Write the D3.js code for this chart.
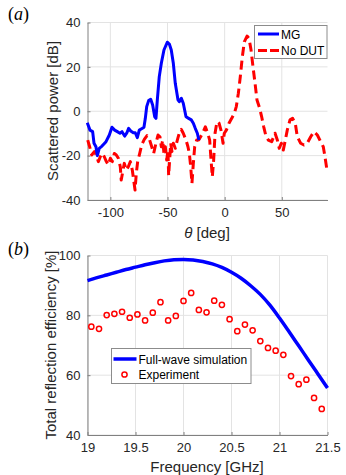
<!DOCTYPE html>
<html>
<head>
<meta charset="utf-8">
<script src="https://cdn.jsdelivr.net/npm/d3@7"></script>
<style>
  html, body { margin: 0; padding: 0; background: #fff; }
  svg { display: block; font-family: "Liberation Sans", Arial, sans-serif; }
</style>
</head>
<body>
<svg id="chart" width="346" height="475"></svg>
<script>
// ---------- Data: panel (a) ----------
const mgTheta = [-120.2,-117.8,-115.5,-114.3,-112.6,-111.4,-109.7,-107.3,-103.8,-100.9,-98.6,-96.2,-93.9,-91.6,-89.8,-87.5,-85.7,-84.0,-82.2,-79.9,-78.2,-76.4,-74.7,-72.3,-70.6,-69.4,-68.2,-66.5,-64.7,-63.0,-61.2,-60.1,-58.9,-57.2,-55.4,-53.1,-50.2,-48.4,-46.7,-44.9,-43.2,-40.8,-39.7,-37.9,-36.2,-33.8,-31.5,-29.2,-27.4,-25.7,-23.9,-22.5];
const mgPower = [-5.2,-8.5,-9.2,-14.4,-16.0,-20.0,-16.7,-15.7,-13.7,-10.7,-7.2,-8.5,-9.2,-9.9,-9.2,-11.2,-9.9,-7.7,-8.9,-9.7,-9.7,-11.9,-8.5,-7.8,-7.2,-3.2,2.1,4.8,5.4,2.8,-2.5,-3.2,5.1,15.6,21.6,27.6,31.1,30.3,27.6,21.6,12.6,5.1,4.3,5.8,3.6,-2.5,-3.2,-3.9,-5.4,-7.7,-9.9,-13.0];

const noDutTheta = [-119.8,-118.1,-116.3,-114.0,-112.3,-110.5,-108.8,-107.1,-105.3,-103.5,-101.8,-100.0,-98.3,-96.5,-94.8,-93.0,-91.3,-90.5,-87.8,-86.0,-84.3,-82.5,-80.8,-79.6,-78.4,-77.3,-76.1,-74.3,-72.6,-70.3,-67.9,-65.6,-63.8,-62.1,-60.1,-58.3,-56.6,-55.4,-54.2,-53.1,-51.9,-50.7,-49.6,-49.0,-47.2,-46.1,-44.9,-43.2,-41.4,-39.7,-37.9,-36.2,-33.8,-32.1,-30.9,-29.7,-28.6,-27.4,-26.2,-24.5,-22.7,-21.0,-18.7,-16.9,-14.8,-13.1,-11.9,-10.8,-9.6,-8.4,-6.7,-4.9,-3.2,-1.4,-0.3,1.5,3.8,6.2,8.5,10.2,12.0,13.7,15.5,17.2,19.6,21.3,23.1,24.8,26.6,28.3,30.7,32.4,34.2,35.9,38.2,41.2,44.1,46.1,47.8,49.6,51.3,53.1,54.8,57.2,59.5,61.8,63.6,66.5,69.4,72.3,75.3,78.2,81.1,84.0,86.3,87.8,89.3];
const noDutPower = [-13.0,-16.0,-19.7,-18.2,-19.7,-22.7,-20.5,-19.0,-20.5,-22.7,-24.2,-21.2,-22.7,-19.0,-19.7,-21.2,-25.0,-31.0,-23.5,-26.5,-25.0,-22.7,-26.5,-31.0,-35.5,-28.0,-22.7,-19.0,-15.2,-12.7,-11.0,-13.0,-16.0,-19.0,-14.4,-10.7,-11.5,-16.0,-13.0,-19.0,-16.0,-22.0,-17.5,-29.0,-14.4,-18.2,-14.4,-16.7,-13.0,-9.9,-8.2,-9.9,-13.0,-16.0,-19.0,-25.0,-32.5,-23.5,-16.0,-13.0,-13.0,-11.5,-9.2,-7.0,-9.9,-13.0,-22.0,-29.5,-22.0,-9.9,-4.7,-5.4,-8.5,-14.4,-9.9,-8.5,-5.4,-3.2,-0.9,2.1,8.1,15.6,24.6,31.3,33.9,32.9,27.6,20.1,12.6,5.1,1.3,-2.5,-7.0,-10.7,-13.0,-13.7,-9.9,-13.0,-16.7,-14.4,-17.5,-13.0,-8.5,-3.9,-3.2,-5.4,-11.5,-14.4,-15.2,-14.4,-11.5,-9.2,-10.7,-13.7,-16.0,-20.5,-25.7];

const thetaTicks = [-100, -50, 0, 50];
const powerTicks = [-40, -20, 0, 20, 40];
const legendA = ["MG", "No DUT"];

// ---------- Data: panel (b) ----------
const freqSim = [19.0,19.1,19.2,19.3,19.4,19.5,19.6,19.7,19.8,19.9,20.0,20.1,20.2,20.3,20.4,20.5,20.6,20.7,20.8,20.9,21.0,21.1,21.2,21.3,21.4,21.5];
const effSim  = [91.6,92.6,93.5,94.4,95.3,96.1,96.9,97.6,98.2,98.6,98.7,98.5,98.0,97.2,96.0,94.4,92.4,89.9,87.0,83.4,79.1,74.5,69.8,65.1,60.4,55.7];

const freqExp = [19.04,19.12,19.20,19.28,19.36,19.44,19.52,19.60,19.68,19.76,19.84,19.92,20.00,20.08,20.16,20.24,20.32,20.40,20.48,20.56,20.64,20.72,20.80,20.88,20.96,21.04,21.12,21.20,21.28,21.36,21.44];
const effExp  = [76.2,75.5,80.1,80.5,81.2,79.2,80.3,78.3,80.9,84.4,78.3,79.8,84.8,87.5,81.8,81.0,84.9,83.5,78.7,74.7,76.9,75.0,71.4,69.1,68.2,66.8,59.7,57.0,58.5,52.4,48.7];

const freqTicks = [19, 19.5, 20, 20.5, 21, 21.5];
const effTicks = [40, 60, 80, 100];
const legendB = ["Full-wave simulation", "Experiment"];

// ---------- Drawing ----------
const svg = d3.select("#chart");
const BLUE = "#0000ff", RED = "#ff0000";
const GRID = "#e3e3e3", AXIS = "#808080", TEXT = "#262626";
const L = 87.5, R = 327.5;

function drawAxes(g, x, y, xt, yt, xfmt) {
  g.append("g").selectAll("line.vg").data(xt).join("line")
    .attr("x1", d => x(d)).attr("x2", d => x(d))
    .attr("y1", y.range()[0]).attr("y2", y.range()[1])
    .attr("stroke", GRID).attr("stroke-width", 1);
  g.append("g").selectAll("line.hg").data(yt).join("line")
    .attr("x1", x.range()[0]).attr("x2", x.range()[1])
    .attr("y1", d => y(d)).attr("y2", d => y(d))
    .attr("stroke", GRID).attr("stroke-width", 1);
  const xa = g.append("g").attr("transform", `translate(0,${y.range()[0]})`)
    .call(d3.axisBottom(x).tickValues(xt).tickSizeInner(-3).tickSizeOuter(0).tickPadding(8).tickFormat(xfmt));
  const ya = g.append("g").attr("transform", `translate(${x.range()[0]},0)`)
    .call(d3.axisLeft(y).tickValues(yt).tickSizeInner(-3).tickSizeOuter(0).tickPadding(7));
  [xa, ya].forEach(a => {
    a.select(".domain").attr("stroke", AXIS);
    a.selectAll(".tick line").attr("stroke", AXIS);
    a.selectAll(".tick text").attr("fill", TEXT).style("font-size", "13px")
      .style("font-family", '"Liberation Sans", Arial, sans-serif');
  });
  ya.selectAll(".tick text").text(d => (d < 0 ? "-" + Math.abs(d) : d));
}

// ---- Panel (a)
const xA = d3.scaleLinear().domain([-120, 90]).range([L, R]);
const yA = d3.scaleLinear().domain([-40, 40]).range([200, 22.5]);
const gA = svg.append("g");
drawAxes(gA, xA, yA, thetaTicks, powerTicks, d => (d < 0 ? "-" + Math.abs(d) : d));

const lineA = d3.line().x(d => xA(d[0])).y(d => yA(d[1]));
gA.append("path").datum(d3.zip(noDutTheta, noDutPower))
  .attr("d", lineA).attr("fill", "none").attr("stroke", RED)
  .attr("stroke-width", 3).attr("stroke-dasharray", "9,5").attr("stroke-linejoin", "round");
gA.append("path").datum(d3.zip(mgTheta, mgPower))
  .attr("d", lineA).attr("fill", "none").attr("stroke", BLUE)
  .attr("stroke-width", 3).attr("stroke-linejoin", "round");

const lgA = gA.append("g");
lgA.append("rect").attr("x", 254.5).attr("y", 25.5).attr("width", 72.5).attr("height", 33)
  .attr("fill", "#fff").attr("stroke", "#8c8c8c").attr("stroke-width", 1);
legendA.forEach((t, i) => {
  const yy = 34 + i * 16.5;
  lgA.append("line").attr("x1", 258).attr("x2", 279).attr("y1", yy).attr("y2", yy)
    .attr("stroke", i === 0 ? BLUE : RED).attr("stroke-width", 3)
    .attr("stroke-dasharray", i === 0 ? null : "9,3");
  lgA.append("text").attr("x", 281).attr("y", yy + 4.5).text(t)
    .attr("fill", "#000").style("font-size", "12px");
});

svg.append("text").attr("transform", "translate(58,111) rotate(-90)")
  .attr("text-anchor", "middle").attr("fill", TEXT).style("font-size", "15px")
  .text("Scattered power [dB]");
const xlabA = svg.append("text").attr("x", 207).attr("y", 237.5).attr("text-anchor", "middle")
  .attr("fill", TEXT).style("font-size", "15px");
xlabA.append("tspan").style("font-style", "italic").text("θ");
xlabA.append("tspan").text(" [deg]");
const pa = svg.append("text").attr("x", 8).attr("y", 20)
  .style("font-family", '"Liberation Serif", "Times New Roman", serif').style("font-size", "18px").attr("fill", "#000");
pa.append("tspan").text("(");
pa.append("tspan").style("font-style", "italic").text("a");
pa.append("tspan").text(")");

// ---- Panel (b)
const xB = d3.scaleLinear().domain([19, 21.5]).range([L, R]);
const yB = d3.scaleLinear().domain([40, 100]).range([435, 255.5]);
const gB = svg.append("g");
drawAxes(gB, xB, yB, freqTicks, effTicks, d => d);

gB.append("path").datum(d3.zip(freqSim, effSim))
  .attr("d", d3.line().x(d => xB(d[0])).y(d => yB(d[1])).curve(d3.curveMonotoneX))
  .attr("fill", "none").attr("stroke", BLUE).attr("stroke-width", 3.5);
gB.append("g").selectAll("circle").data(d3.zip(freqExp, effExp)).join("circle")
  .attr("cx", d => xB(d[0])).attr("cy", d => yB(d[1])).attr("r", 2.6)
  .attr("fill", "none").attr("stroke", RED).attr("stroke-width", 1.5);

const lgB = gB.append("g");
lgB.append("rect").attr("x", 111.5).attr("y", 348.5).attr("width", 139.5).attr("height", 35)
  .attr("fill", "#fff").attr("stroke", "#8c8c8c").attr("stroke-width", 1);
lgB.append("line").attr("x1", 113.5).attr("x2", 136.5).attr("y1", 359).attr("y2", 359)
  .attr("stroke", BLUE).attr("stroke-width", 3.5);
lgB.append("circle").attr("cx", 124.5).attr("cy", 374.5).attr("r", 2.6)
  .attr("fill", "none").attr("stroke", RED).attr("stroke-width", 1.5);
legendB.forEach((t, i) => {
  lgB.append("text").attr("x", 138.5).attr("y", 363.5 + i * 15.7).text(t)
    .attr("fill", "#000").style("font-size", "12px");
});

svg.append("text").attr("transform", "translate(56,345) rotate(-90)")
  .attr("text-anchor", "middle").attr("fill", TEXT).style("font-size", "15px")
  .text("Total reflection efficiency [%]");
svg.append("text").attr("x", 207).attr("y", 472).attr("text-anchor", "middle")
  .attr("fill", TEXT).style("font-size", "15px").text("Frequency [GHz]");
const pb = svg.append("text").attr("x", 8).attr("y", 255)
  .style("font-family", '"Liberation Serif", "Times New Roman", serif').style("font-size", "18px").attr("fill", "#000");
pb.append("tspan").text("(");
pb.append("tspan").style("font-style", "italic").text("b");
pb.append("tspan").text(")");
</script>
</body>
</html>
